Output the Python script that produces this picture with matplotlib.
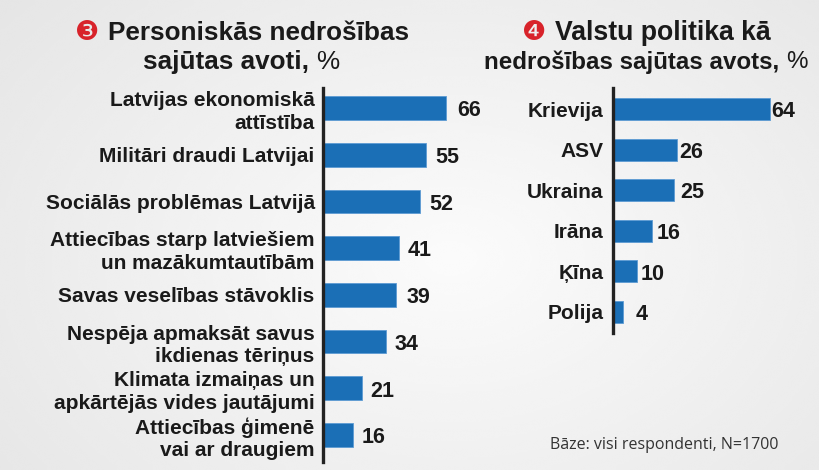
import matplotlib
matplotlib.use("Agg")
import matplotlib.pyplot as plt
import numpy as np

# left panel: personal sources of insecurity, %
personal_labels = [
    "Latvijas ekonomiskā\nattīstība",
    "Militāri draudi Latvijai",
    "Sociālās problēmas Latvijā",
    "Attiecības starp latviešiem\nun mazākumtautībām",
    "Savas veselības stāvoklis",
    "Nespēja apmaksāt savus\nikdienas tēriņus",
    "Klimata izmaiņas un\napkārtējās vides jautājumi",
    "Attiecības ģimenē\nvai ar draugiem",
]
personal_values = [66, 55, 52, 41, 39, 34, 21, 16]

# right panel: countries' policies as a source of insecurity, %
country_labels = ["Krievija", "ASV", "Ukraina", "Irāna", "Ķīna", "Polija"]
country_values = [64, 26, 25, 16, 10, 4]

BAR = "#1b6fb6"
INK = "#1a1a1a"
FONT = "Liberation Sans"
W, H = 820, 470

fig = plt.figure(figsize=(8.2, 4.7), dpi=100)

# soft grey background gradient
bg = fig.add_axes([0, 0, 1, 1], zorder=-5)
yy, xx = np.mgrid[0:1:200j, 0:1:340j]
d = np.sqrt(((xx - 0.55) / 0.75) ** 2 + ((yy - 0.55) / 0.9) ** 2)
shade = np.clip(0.985 - 0.09 * d, 0.88, 0.985)
bg.imshow(shade, cmap="gray", vmin=0, vmax=1, aspect="auto",
          extent=[0, 1, 0, 1], interpolation="bicubic")
bg.axis("off")


def px_axes(x0, x1, y_top, y_bot):
    return fig.add_axes([x0 / W, (H - y_bot) / H, (x1 - x0) / W, (y_bot - y_top) / H])


def draw_panel(ax, labels, values, px_per_unit, width_px, top_pad, bot_pad,
               height, label_gap, val_gaps):
    n = len(values)
    y = np.arange(n)
    ax.barh(y, values, height=height, color=BAR, edgecolor="#5d9bd3", linewidth=0.6)
    ax.set_xlim(0, width_px / px_per_unit)
    ax.set_ylim(n - 1 + bot_pad, -top_pad)
    ax.set_facecolor("none")
    for s in ["top", "right", "bottom"]:
        ax.spines[s].set_visible(False)
    ax.spines["left"].set_linewidth(2.4)
    ax.spines["left"].set_color("#222222")
    ax.set_xticks([])
    ax.set_yticks(y)
    ax.set_yticklabels(labels, fontfamily=FONT, fontweight="bold", fontsize=15,
                       color=INK, linespacing=1.25)
    ax.tick_params(axis="y", length=0, pad=label_gap)
    for yi, v, g in zip(y, values, val_gaps):
        ax.annotate(str(v), (v, yi), xytext=(g, -2), textcoords="offset points",
                    va="center", ha="left", fontfamily=FONT, fontweight="bold",
                    fontsize=15.5, color=INK)


ax1 = px_axes(323, 510, 88, 462)
draw_panel(ax1, personal_labels, personal_values, 1.865, 187, 0.43, 0.58, 0.51, 6,
           [8, 7, 7, 6, 8, 6, 6, 6])

ax2 = px_axes(613, 810, 88, 333)
draw_panel(ax2, country_labels, country_values, 2.45, 197, 0.52, 0.52, 0.54, 7,
           [1, 2, 4, 3, 2, 9])

renderer = fig.canvas.get_renderer()


def title_line(parts, cx, cy):
    # parts: list of (text, family, weight, color, size)
    objs = []
    for txt, fam, wt, col, sz in parts:
        t = fig.text(0, cy / H, txt, fontfamily=fam, fontweight=wt, color=col,
                     fontsize=sz, va="center", ha="left")
        objs.append(t)
    widths = [o.get_window_extent(renderer).width for o in objs]
    x = cx - sum(widths) / 2
    for o, w in zip(objs, widths):
        o.set_x(x / W)
        x += w


RED = "#d8232a"
TS = 18.8
title_line([("❸ ", "DejaVu Sans", "normal", RED, 19.5),
            ("Personiskās nedrošības", FONT, "bold", INK, TS)], 242, H - 33)
title_line([("sajūtas avoti, ", FONT, "bold", INK, TS),
            ("%", FONT, "normal", INK, TS)], 241, H - 62)
title_line([("❹ ", "DejaVu Sans", "normal", RED, 19.5),
            ("Valstu politika kā", FONT, "bold", INK, 19.2)], 646, H - 33)
title_line([("nedrošības sajūtas avots, ", FONT, "bold", INK, 17.4),
            ("%", FONT, "normal", INK, 17.4)], 646, H - 62)

fig.text(550 / W, (H - 445) / H, "Bāze: visi respondenti, N=1700",
         fontfamily="Open Sans", fontsize=11.5, color="#333333", va="center", ha="left")

fig.savefig("out.png", dpi=100)
